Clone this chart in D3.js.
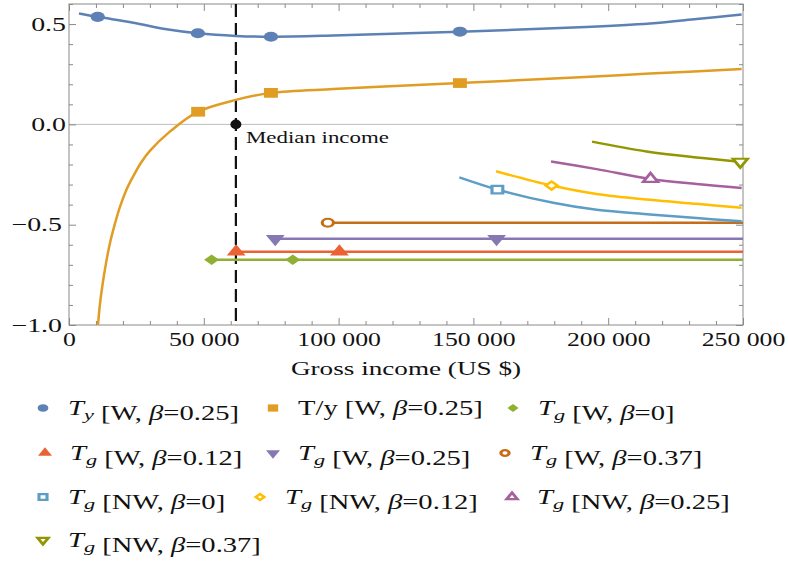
<!DOCTYPE html>
<html>
<head>
<meta charset="utf-8">
<style>
  body { margin: 0; background: #fff; }
  text { font-family: "Liberation Serif", "Times New Roman", serif; fill: #111; }
  .frame { fill: none; stroke: #8a8a8a; stroke-width: 1; }
  .axis .tick line { stroke: #8a8a8a; }
  .axis .domain { display: none; }
  .curve { fill: none; stroke-width: 2.5; stroke-linejoin: round; }
</style>
</head>
<body>
<svg width="788" height="563"></svg>
<script src="https://d3js.org/d3.v7.min.js"></script>
<script>
// ---- data ----
const medianIncome = 61900;

// T_y [W, beta=0.25]
const tyIncome = [3700, 10650, 23850, 36200, 47800, 61900, 74900, 98000, 120000, 145000, 189500, 215500, 232800, 249500];
const tyValue  = [0.553, 0.536, 0.507, 0.474, 0.454, 0.441, 0.437, 0.443, 0.452, 0.462, 0.484, 0.503, 0.525, 0.548];
const tyMarks  = [1, 4, 6, 9];

// T/y [W, beta=0.25]
const ratioIncome = [10750, 11500, 12700, 13700, 15200, 17100, 18900, 21500, 23850, 26700, 30000, 37500, 47900, 61900, 74900, 98000, 115000, 145000, 189500, 215500, 249500];
const ratioValue  = [-1.0, -0.894, -0.776, -0.694, -0.591, -0.492, -0.411, -0.320, -0.258, -0.191, -0.132, -0.035, 0.063, 0.122, 0.157, 0.176, 0.188, 0.206, 0.235, 0.253, 0.276];
const ratioMarks  = [12, 14, 17];

// T_g, W
const wB0Income  = [52900, 83000, 250000];
const wB0Value   = [-0.675, -0.675, -0.675];
const wB12Income = [62000, 100300, 250000];
const wB12Value  = [-0.635, -0.635, -0.635];
const wB25Income = [76500, 158600, 250000];
const wB25Value  = [-0.57, -0.57, -0.57];
const wB37Income = [96000, 250000];
const wB37Value  = [-0.49, -0.49];

// T_g, NW
const nwB0Income  = [144800, 158900, 179600, 195700, 215500, 232800, 249500];
const nwB0Value   = [-0.264, -0.325, -0.391, -0.426, -0.449, -0.467, -0.483];
const nwB12Income = [158400, 179000, 195700, 215500, 232800, 249500];
const nwB12Value  = [-0.234, -0.305, -0.347, -0.376, -0.396, -0.416];
const nwB25Income = [178800, 195700, 215700, 232800, 249500];
const nwB25Value  = [-0.185, -0.223, -0.272, -0.297, -0.317];
const nwB37Income = [194000, 214200, 232800, 249000];
const nwB37Value  = [-0.086, -0.135, -0.165, -0.186];

const legendLabels = ["T_y [W, β=0.25]", "T/y [W, β=0.25]", "T_g [W, β=0]",
  "T_g [W, β=0.12]", "T_g [W, β=0.25]", "T_g [W, β=0.37]",
  "T_g [NW, β=0]", "T_g [NW, β=0.12]", "T_g [NW, β=0.25]", "T_g [NW, β=0.37]"];
const seriesColors = ["#5e81b5", "#e19c24", "#8fb032", "#eb6235", "#8778b3",
  "#c56e1a", "#5d9ec7", "#ffbf00", "#a5609d", "#929600"];
const markerKinds = ["circle", "square", "diamond", "up", "down",
  "circle", "square", "diamond", "up", "down"];

const xMajor = [0, 50000, 100000, 150000, 200000, 250000];
const yMajor = [-1.0, -0.5, 0.0, 0.5];

const series = [
  [tyIncome, tyValue, tyMarks],
  [ratioIncome, ratioValue, ratioMarks],
  [wB0Income, wB0Value, [0, 1]],
  [wB12Income, wB12Value, [0, 1]],
  [wB25Income, wB25Value, [0, 1]],
  [wB37Income, wB37Value, [0]],
  [nwB0Income, nwB0Value, [1]],
  [nwB12Income, nwB12Value, [1]],
  [nwB25Income, nwB25Value, [2]],
  [nwB37Income, nwB37Value, [3]]
];

// the reference is stretched sideways, so text and markers are too
const SX = 1.43;
const FONT = '"Liberation Serif", "Times New Roman", serif';

const svg = d3.select("svg");
const x = d3.scaleLinear().domain([0, 250000]).range([69, 743]);
const y = d3.scaleLinear().domain([-1, 0.6]).range([325, 4]);

svg.append("defs").append("clipPath").attr("id", "plot")
  .append("rect").attr("x", 69).attr("y", 4).attr("width", 674).attr("height", 321);

// zero line
svg.append("line")
  .attr("x1", x(0)).attr("x2", x(250000))
  .attr("y1", y(0)).attr("y2", y(0))
  .attr("stroke", "#bdbdbd").attr("stroke-width", 1);

// frame + ticks
const xMinor = d3.range(0, 250001, 10000).filter(v => !xMajor.includes(v));
const yMinor = d3.range(-10, 7).map(v => v / 10).filter(v => !yMajor.includes(v) && v !== 0.5);

function ticksOnly(axis, vals, size) {
  return axis.tickValues(vals).tickSize(size).tickFormat("");
}
svg.append("g").attr("class", "axis").attr("transform", "translate(0,325)")
  .call(ticksOnly(d3.axisBottom(x), xMinor, -4));
svg.append("g").attr("class", "axis").attr("transform", "translate(0,4)")
  .call(ticksOnly(d3.axisTop(x), xMinor, -4));
svg.append("g").attr("class", "axis").attr("transform", "translate(0,4)")
  .call(ticksOnly(d3.axisTop(x), xMajor, -7));
svg.append("g").attr("class", "axis").attr("transform", "translate(69,0)")
  .call(ticksOnly(d3.axisLeft(y), yMinor, -4));
svg.append("g").attr("class", "axis").attr("transform", "translate(743,0)")
  .call(ticksOnly(d3.axisRight(y), yMinor, -4));
svg.append("g").attr("class", "axis").attr("transform", "translate(743,0)")
  .call(ticksOnly(d3.axisRight(y), yMajor, -7));

const xAxis = svg.append("g").attr("class", "axis").attr("transform", "translate(0,325)")
  .call(d3.axisBottom(x).tickValues(xMajor).tickSize(-7).tickPadding(8)
    .tickFormat(d => d3.format(",")(d).replace(",", " ")));
xAxis.attr("font-family", FONT);
xAxis.selectAll("text").attr("font-size", 18).attr("fill", "#111")
  .attr("transform", `scale(${SX},1)`);

const yAxis = svg.append("g").attr("class", "axis").attr("transform", "translate(69,0)")
  .call(d3.axisLeft(y).tickValues(yMajor).tickSize(-7).tickFormat(d3.format(".1f")));
yAxis.attr("font-family", FONT);
yAxis.selectAll("text").attr("font-size", 19.5).attr("fill", "#111")
  .attr("x", d => (d < 0 ? -7 : -3) / SX)
  .attr("transform", `scale(${SX},1)`);

svg.append("rect").attr("class", "frame")
  .attr("x", 69).attr("y", 4).attr("width", 674).attr("height", 321);

// median income
svg.append("line")
  .attr("x1", x(medianIncome)).attr("x2", x(medianIncome))
  .attr("y1", 4).attr("y2", 325)
  .attr("stroke", "#111").attr("stroke-width", 2.2).attr("stroke-dasharray", "13,6");

// curves
const line = d3.line().x(d => x(d[0])).y(d => y(d[1])).curve(d3.curveCatmullRom.alpha(0.5));
const plot = svg.append("g").attr("clip-path", "url(#plot)");
series.forEach((s, i) => {
  plot.append("path").attr("class", "curve")
    .attr("stroke", seriesColors[i])
    .attr("d", line(d3.zip(s[0], s[1])));
});

function markerPath(kind, size) {
  if (kind === "circle") return d3.symbol(d3.symbolCircle, size)();
  if (kind === "square" || kind === "diamond") return d3.symbol(d3.symbolSquare, size)();
  return d3.symbol(d3.symbolTriangle, size)();
}
function drawMarker(g, i, cx, cy, scale) {
  const kind = markerKinds[i];
  const open = i >= 5;
  const base = { circle: 80, square: 95, diamond: 55, up: 75, down: 75 }[kind];
  let t = `translate(${cx},${cy}) scale(${SX},1)`;
  if (kind === "diamond") t += " rotate(45)";
  if (kind === "down") t += " rotate(180)";
  g.append("path")
    .attr("d", markerPath(kind, base * scale * (open ? 0.6 : 1)))
    .attr("transform", t)
    .attr("fill", open ? "#fff" : seriesColors[i])
    .attr("stroke", open ? seriesColors[i] : "none")
    .attr("stroke-width", open ? 2.2 : 0);
}

const marks = svg.append("g");
series.forEach((s, i) => {
  s[2].forEach(k => drawMarker(marks, i, x(s[0][k]), y(s[1][k]), 1));
});

// median point + label
svg.append("ellipse")
  .attr("cx", x(medianIncome)).attr("cy", y(0))
  .attr("rx", 5.5).attr("ry", 4.8).attr("fill", "#111");
svg.append("text")
  .attr("transform", `translate(246,143) scale(${SX},1)`)
  .attr("font-family", FONT)
  .attr("font-size", 16)
  .text("Median income");

// axis title
svg.append("text")
  .attr("transform", `translate(${(69 + 743) / 2},375) scale(${SX},1)`)
  .attr("text-anchor", "middle")
  .attr("font-family", FONT)
  .attr("font-size", 19)
  .text("Gross income (US $)");

// legend
const legendRowY = [408, 453, 497, 540];
const legendMarkX = [43, 273, 513, 45, 273, 505, 43, 260, 512, 43];
const legend = svg.append("g").attr("font-family", FONT);

function writeLabel(textSel, label) {
  const parts = label.split(/(T_[yg]|β)/).filter(p => p !== "");
  parts.forEach(p => {
    if (p.startsWith("T_")) {
      textSel.append("tspan").attr("font-style", "italic").text("T");
      textSel.append("tspan").attr("font-style", "italic")
        .attr("font-size", "78%").attr("dy", 5).text(p[2]);
      textSel.append("tspan").attr("dy", -5).text("");
    } else if (p === "β") {
      textSel.append("tspan").attr("font-style", "italic").text(p);
    } else {
      textSel.append("tspan").text(p);
    }
  });
}

legendLabels.forEach((label, i) => {
  const row = i < 3 ? 0 : i < 6 ? 1 : i < 9 ? 2 : 3;
  const cy = legendRowY[row];
  const mx = legendMarkX[i];
  drawMarker(legend, i, mx, cy, 0.55);
  const t = legend.append("text")
    .attr("transform", `translate(${mx + 25},${cy + 7}) scale(${SX},1)`)
    .attr("font-size", 20)
    .attr("xml:space", "preserve");
  writeLabel(t, label);
});
</script>
</body>
</html>
